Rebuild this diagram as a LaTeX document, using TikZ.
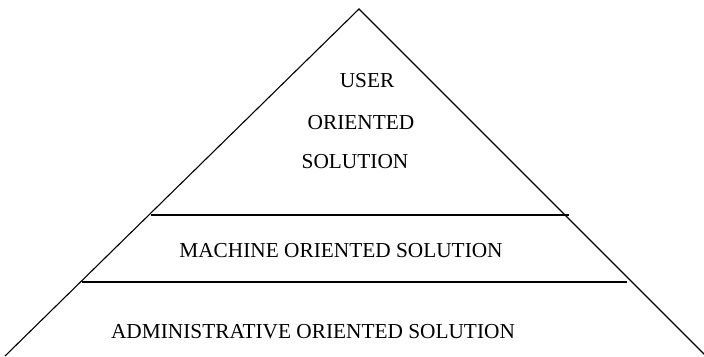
\documentclass[tikz,border=0pt]{standalone}
\usepackage{fontspec}
\setmainfont{Liberation Serif}
\begin{document}
\begin{tikzpicture}[x=1bp,y=-1bp,
  layer/.style={font=\fontsize{21.4}{24}\selectfont,inner sep=0pt},
  edge/.style={line width=1.1bp}]
\useasboundingbox (0,0) rectangle (704,356);
\coordinate (top) at (359,9);
\coordinate (left) at (5,356);
\coordinate (right) at (706,356);
\draw[edge] (left) -- (top) -- (right);
\draw[edge] (151,215) -- (569,215);
\draw[edge] (82,282) -- (627,282);
\node[layer] (user) at (367,81) {USER};
\node[layer] (oriented) at (361,123) {ORIENTED};
\node[layer] (solution) at (355,162) {SOLUTION};
\node[layer] (machine) at (341,251) {MACHINE ORIENTED SOLUTION};
\node[layer] (admin) at (313,332) {ADMINISTRATIVE ORIENTED SOLUTION};
\end{tikzpicture}
\end{document}
